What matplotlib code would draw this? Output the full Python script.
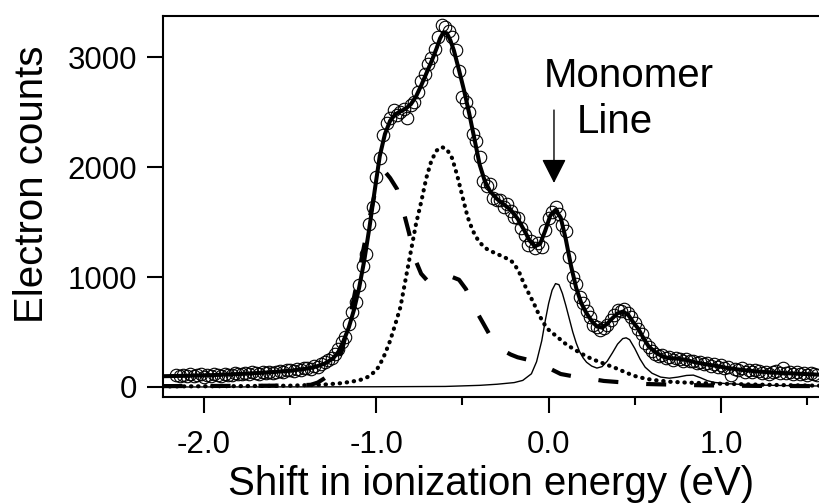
import numpy as np
import matplotlib
matplotlib.use("Agg")
import matplotlib.pyplot as plt

plt.rcParams["font.family"] = ["Liberation Sans", "DejaVu Sans"]

# measured spectrum (open circles), energy step 0.02 eV
data_x = np.linspace(-2.16, 1.56, 187)
data_y = [
    112, 96, 108, 101, 117, 99, 106, 114, 95, 110,
    104, 119, 111, 102, 121, 113, 108, 124, 115, 120,
    128, 117, 132, 125, 121, 136, 129, 140, 127, 139,
    146, 137, 152, 158, 149, 163, 155, 170, 177, 168,
    190, 184, 212, 228, 245, 268, 300, 345, 410, 455,
    570, 680, 770, 930, 1100, 1210, 1480, 1640, 1910, 2080,
    2290, 2400, 2450, 2520, 2470, 2500, 2530, 2450, 2560, 2590,
    2680, 2780, 2850, 2940, 2990, 3070, 3180, 3290, 3270, 3240,
    3180, 3060, 2870, 2640, 2590, 2500, 2300, 2240, 2090, 1870,
    1830, 1850, 1720, 1700, 1700, 1640, 1660, 1600, 1550, 1540,
    1450, 1380, 1290, 1330, 1260, 1310, 1270, 1430, 1540, 1590,
    1640, 1570, 1470, 1420, 1180, 1000, 940, 820, 760, 690,
    640, 560, 545, 520, 540, 560, 610, 650, 700, 690,
    710, 670, 640, 580, 530, 480, 400, 360, 330, 300,
    280, 290, 260, 275, 245, 265, 250, 235, 255, 240,
    235, 215, 230, 205, 220, 195, 210, 185, 198, 170,
    180, 110, 165, 150, 170, 140, 158, 135, 150, 145,
    128, 140, 122, 135, 145, 130, 175, 125, 138, 120,
    132, 115, 128, 110, 125, 118, 108,
]

# total fit (thick line)
fit_x = [-2.24, -2.1, -1.95, -1.8, -1.65, -1.5, -1.4, -1.35, -1.3, -1.25,
         -1.22, -1.19, -1.16, -1.13, -1.1, -1.07, -1.04, -1.01, -0.98, -0.95,
         -0.92, -0.89, -0.86, -0.83, -0.8, -0.77, -0.74, -0.71, -0.68, -0.65,
         -0.63, -0.61, -0.59, -0.57, -0.55, -0.52, -0.49, -0.46, -0.43, -0.4,
         -0.37, -0.34, -0.3, -0.26, -0.22, -0.18, -0.14, -0.11, -0.08, -0.05,
         -0.02, 0.01, 0.04, 0.07, 0.1, 0.13, 0.16, 0.19, 0.22, 0.25,
         0.28, 0.31, 0.34, 0.37, 0.4, 0.43, 0.46, 0.49, 0.52, 0.55,
         0.58, 0.62, 0.66, 0.7, 0.75, 0.8, 0.85, 0.9, 0.96, 1.03,
         1.12, 1.22, 1.34, 1.46, 1.57]
fit_y = [98, 102, 108, 118, 130, 148, 168, 185, 212, 262,
         320, 420, 540, 700, 900, 1150, 1450, 1780, 2100, 2300,
         2420, 2480, 2505, 2530, 2570, 2640, 2740, 2850, 2960, 3080,
         3170, 3225, 3215, 3150, 3060, 2880, 2690, 2480, 2250, 2020,
         1870, 1780, 1710, 1660, 1610, 1530, 1420, 1330, 1280, 1300,
         1420, 1560, 1610, 1540, 1340, 1100, 900, 760, 670, 600,
         550, 540, 575, 625, 670, 685, 660, 590, 530, 445,
         370, 315, 278, 262, 258, 245, 225, 210, 195, 175,
         155, 140, 128, 120, 112]

# monomer component (thin line)
mono_x = [-2.24, -1.5, -1.0, -0.6, -0.4, -0.3, -0.2, -0.15, -0.1, -0.07,
          -0.04, -0.02, 0.0, 0.02, 0.04, 0.06, 0.08, 0.1, 0.12, 0.14,
          0.16, 0.18, 0.2, 0.22, 0.25, 0.28, 0.31, 0.34, 0.37, 0.4,
          0.43, 0.45, 0.47, 0.5, 0.53, 0.56, 0.6, 0.65, 0.7, 0.75,
          0.8, 0.84, 0.88, 0.92, 0.96, 1.02, 1.1, 1.2, 1.4, 1.57]
mono_y = [0, 1, 2, 5, 15, 25, 40, 60, 120, 230,
          420, 600, 760, 880, 940, 930, 850, 740, 620, 500,
          400, 320, 265, 225, 190, 172, 185, 235, 310, 390,
          440, 447, 430, 350, 255, 180, 125, 90, 80, 90,
          105, 108, 85, 58, 42, 32, 25, 18, 12, 9]

# second component (dotted)
dot_x = [-2.24, -1.8, -1.5, -1.3, -1.2, -1.1, -1.05, -1.0, -0.975, -0.95,
         -0.92, -0.89, -0.86, -0.83, -0.8, -0.77, -0.74, -0.71, -0.68, -0.65,
         -0.62, -0.59, -0.56, -0.53, -0.5, -0.47, -0.44, -0.41, -0.38, -0.35,
         -0.3, -0.26, -0.22, -0.2, -0.17, -0.145, -0.115, -0.087, -0.06, -0.03,
         0.0, 0.05, 0.1, 0.15, 0.2, 0.25, 0.3, 0.35, 0.4, 0.45,
         0.5, 0.55, 0.6, 0.7, 0.8, 0.9, 1.0, 1.2, 1.4, 1.57]
dot_y = [5, 8, 12, 22, 35, 60, 91, 150, 218, 300,
         420, 570, 727, 980, 1230, 1480, 1680, 1900, 2060, 2150,
         2182, 2160, 2080, 1920, 1730, 1545, 1420, 1336, 1280, 1245,
         1210, 1182, 1150, 1120, 1040, 945, 850, 764, 670, 582,
         520, 455, 390, 340, 295, 255, 225, 195, 165, 130,
         100, 80, 65, 48, 40, 35, 30, 22, 16, 12]

# third component (dashed)
dash_x = [-2.24, -1.8, -1.6, -1.45, -1.38, -1.34, -1.3, -1.25, -1.2, -1.15,
          -1.1, -1.05, -1.02, -1.0, -0.97, -0.946, -0.92, -0.88, -0.84, -0.81,
          -0.78, -0.74, -0.7, -0.65, -0.6, -0.56, -0.52, -0.48, -0.44, -0.38,
          -0.33, -0.29, -0.22, -0.18, -0.1, -0.035, 0.07, 0.15, 0.215, 0.32,
          0.476, 0.57, 0.7, 0.9, 1.2, 1.57]
dash_y = [8, 10, 12, 15, 20, 40, 80, 136, 330, 650,
          1050, 1450, 1680, 1820, 1930, 1950, 1900, 1800, 1580, 1400,
          1180, 1030, 960, 950, 980, 1000, 975, 890, 745, 580,
          440, 355, 295, 270, 240, 200, 118, 95, 82, 55,
          36, 27, 22, 15, 10, 8]

x_ticks = [-2.0, -1.0, 0.0, 1.0]
x_ticklabels = ["-2.0", "-1.0", "0.0", "1.0"]
x_minor = [-1.5, -0.5, 0.5, 1.5]
y_ticks = [0, 1000, 2000, 3000]

fig = plt.figure(figsize=(8.19, 5.03), dpi=100)
ax = fig.add_axes([163 / 819, 106 / 503, 656 / 819, 381 / 503])

ax.plot(mono_x, mono_y, color="black", lw=1.0)
ax.plot(dot_x, dot_y, color="black", lw=3.0, linestyle=(0, (0.1, 1.6)),
        dash_capstyle="round")
ax.plot(dash_x, dash_y, color="black", lw=3.0, linestyle=(0, (4.8, 6.7)))
ax.plot(data_x, data_y, "o", mfc="none", mec="black", ms=9, mew=0.8)
ax.plot(fit_x, fit_y, color="black", lw=2.9)

ax.annotate("", xy=(0.031, 1855), xytext=(0.031, 2518),
            arrowprops=dict(arrowstyle="-|>,head_length=0.75,head_width=0.38",
                            mutation_scale=20, lw=1.0, color="black",
                            shrinkA=0, shrinkB=0))
ax.text(-0.03, 2724, "Monomer", fontsize=29, ha="left", va="baseline")
ax.text(0.166, 2309, "Line", fontsize=29, ha="left", va="baseline")

ax.set_xlim(-2.238, 1.569)
ax.set_ylim(-91, 3373)
ax.set_xticks(x_ticks)
ax.set_xticklabels(x_ticklabels)
ax.set_xticks(x_minor, minor=True)
ax.set_yticks(y_ticks)

ax.tick_params(axis="both", which="major", length=11.5, width=1.5,
               labelsize=22.5)
ax.tick_params(axis="x", which="major", pad=12)
ax.tick_params(axis="y", which="major", pad=7)
ax.tick_params(axis="x", which="minor", length=5.8, width=1.5)
for s in ["left", "bottom", "top"]:
    ax.spines[s].set_linewidth(1.5)
ax.spines["right"].set_visible(False)

ax.set_xlabel("Shift in ionization energy (eV)", fontsize=29, va="baseline")
ax.xaxis.set_label_coords(0.5, (397 - 495) / 381)
ax.set_ylabel("Electron counts", fontsize=29, va="center")
ax.yaxis.set_label_coords((31.7 - 163) / 656, (397 - 184) / 381)

fig.savefig("out.png", dpi=100)
